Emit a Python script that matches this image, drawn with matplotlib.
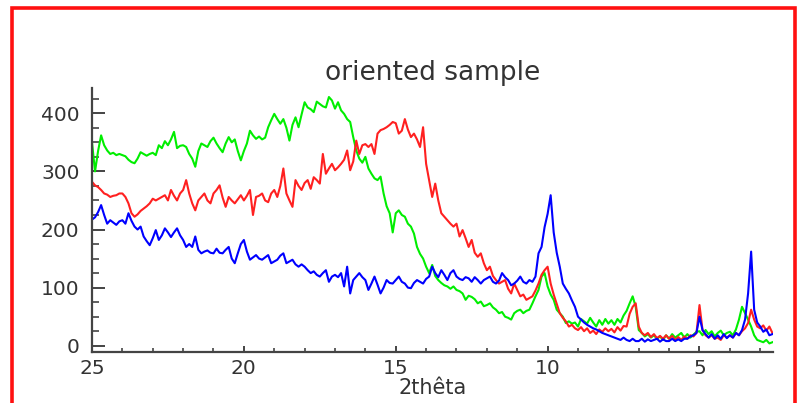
import numpy as np
import matplotlib
matplotlib.use("Agg")
import matplotlib.pyplot as plt
from matplotlib.patches import Rectangle

# 2theta sampling grid: 25.0 down to 2.6 in 0.1 steps (225 points)
two_theta = np.linspace(25.0, 2.6, 225)

green = [
    350, 300, 335, 362, 345, 336, 330, 332, 328, 330,   # 25.0-24.1
    328, 326, 320, 316, 314, 322, 333, 330, 327, 330,   # 24.0-23.1
    332, 328, 345, 340, 352, 345, 355, 368, 340, 344,   # 23.0-22.1
    345, 342, 330, 322, 308, 335, 348, 345, 342, 352,   # 22.0-21.1
    358, 348, 340, 333, 348, 359, 350, 355, 335, 319,   # 21.0-20.1
    335, 348, 370, 362, 356, 360, 355, 358, 376, 388,   # 20.0-19.1
    399, 390, 382, 390, 375, 353, 380, 393, 376, 398,   # 19.0-18.1
    419, 410, 407, 402, 420, 416, 412, 410, 428, 422,   # 18.0-17.1
    408, 419, 405, 399, 390, 385, 359, 336, 322, 315,   # 17.0-16.1
    325, 305, 296, 288, 285, 291, 262, 240, 228, 195,   # 16.0-15.1
    228, 233, 225, 222, 210, 205, 193, 170, 158, 150,   # 15.0-14.1
    136, 125, 139, 120, 113, 108, 104, 102, 98, 102,    # 14.0-13.1
    96, 94, 90, 79, 86, 84, 80, 73, 76, 68,             # 13.0-12.1
    70, 73, 66, 62, 56, 58, 50, 48, 45, 56,             # 12.0-11.1
    60, 62, 56, 60, 62, 73, 85, 96, 119, 125,           # 11.0-10.1
    102, 88, 79, 62, 56, 50, 39, 42, 38, 40,            # 10.0-9.1
    33, 46, 42, 38, 48, 40, 33, 44, 36, 46,             # 9.0-8.1
    38, 44, 36, 46, 40, 52, 60, 73, 85, 67,             # 8.0-7.1
    27, 22, 16, 20, 14, 18, 12, 16, 10, 18,             # 7.0-6.1
    12, 20, 14, 18, 22, 14, 20, 14, 19, 24,             # 6.0-5.1
    25, 18, 27, 20, 25, 16, 22, 26, 18, 22,             # 5.0-4.1
    24, 18, 28, 45, 67, 56, 45, 33, 18, 10,             # 4.0-3.1
    8, 6, 10, 4, 6,                                     # 3.0-2.6
]

red = [
    282, 276, 273, 268, 262, 260, 256, 258, 259, 262,   # 25.0-24.1
    262, 256, 245, 228, 222, 226, 232, 236, 240, 245,   # 24.0-23.1
    253, 250, 253, 256, 259, 250, 268, 258, 250, 262,   # 23.0-22.1
    268, 285, 262, 245, 233, 250, 256, 262, 250, 245,   # 22.0-21.1
    262, 268, 276, 255, 239, 256, 250, 245, 252, 259,   # 21.0-20.1
    250, 258, 268, 225, 256, 258, 262, 250, 247, 262,   # 20.0-19.1
    268, 256, 275, 305, 262, 250, 239, 285, 275, 268,   # 19.0-18.1
    280, 285, 270, 290, 285, 279, 330, 296, 305, 313,   # 18.0-17.1
    302, 307, 313, 320, 336, 302, 317, 353, 330, 345,   # 17.0-16.1
    347, 342, 347, 330, 365, 371, 373, 376, 380, 385,   # 16.0-15.1
    383, 365, 370, 390, 372, 359, 365, 355, 342, 376,   # 15.0-14.1
    313, 285, 256, 279, 250, 228, 222, 216, 210, 205,   # 14.0-13.1
    210, 188, 199, 185, 170, 182, 160, 153, 159, 142,   # 13.0-12.1
    130, 136, 120, 113, 107, 110, 113, 98, 90, 107,     # 12.0-11.1
    96, 85, 88, 79, 82, 85, 95, 107, 122, 130,          # 11.0-10.1
    136, 107, 88, 72, 56, 48, 42, 33, 36, 30,           # 10.0-9.1
    27, 32, 25, 30, 22, 26, 20, 28, 24, 30,             # 9.0-8.1
    25, 29, 23, 32, 26, 34, 33, 55, 67, 73,             # 8.0-7.1
    33, 22, 18, 22, 15, 20, 13, 17, 12, 18,             # 7.0-6.1
    12, 17, 10, 15, 10, 16, 12, 18, 16, 22,             # 6.0-5.1
    70, 27, 18, 14, 18, 12, 14, 10, 18, 14,             # 5.0-4.1
    18, 14, 22, 18, 25, 30, 39, 62, 45, 33,             # 4.0-3.1
    30, 35, 26, 33, 22,                                 # 3.0-2.6
]

blue = [
    217, 221, 230, 242, 225, 210, 216, 212, 208, 214,   # 25.0-24.1
    216, 210, 228, 215, 205, 200, 205, 188, 180, 173,   # 24.0-23.1
    185, 199, 182, 190, 202, 195, 187, 195, 202, 190,   # 23.0-22.1
    182, 170, 175, 170, 188, 165, 159, 162, 164, 160,   # 22.0-21.1
    159, 167, 160, 159, 165, 170, 150, 142, 159, 175,   # 21.0-20.1
    182, 162, 148, 152, 156, 150, 148, 152, 156, 142,   # 20.0-19.1
    145, 148, 155, 159, 142, 145, 148, 140, 136, 140,   # 19.0-18.1
    136, 130, 125, 128, 122, 119, 125, 130, 110, 119,   # 18.0-17.1
    122, 118, 125, 102, 136, 90, 113, 119, 125, 118,    # 17.0-16.1
    113, 96, 107, 119, 105, 90, 100, 113, 108, 107,     # 16.0-15.1
    113, 119, 110, 107, 100, 99, 108, 113, 110, 107,    # 15.0-14.1
    115, 119, 136, 125, 118, 130, 122, 113, 125, 130,   # 14.0-13.1
    119, 115, 113, 118, 116, 110, 118, 113, 107, 113,   # 13.0-12.1
    116, 119, 110, 107, 112, 125, 118, 113, 104, 107,   # 12.0-11.1
    112, 119, 110, 107, 113, 110, 119, 159, 170, 204,   # 11.0-10.1
    227, 259, 195, 160, 136, 107, 98, 90, 78, 67,       # 10.0-9.1
    50, 45, 40, 36, 33, 30, 28, 25, 22, 20,             # 9.0-8.1
    18, 16, 14, 12, 10, 14, 10, 8, 12, 8,               # 8.0-7.1
    8, 12, 7, 11, 8, 10, 12, 7, 11, 8,                  # 7.0-6.1
    8, 12, 8, 11, 8, 12, 12, 16, 18, 22,                # 6.0-5.1
    50, 27, 20, 14, 20, 12, 18, 12, 20, 13,             # 5.0-4.1
    18, 14, 22, 18, 27, 45, 90, 162, 62, 40,            # 4.0-3.1
    33, 24, 28, 18, 20,                                 # 3.0-2.6
]

x_ticks = [25, 20, 15, 10, 5]
y_ticks = [0, 100, 200, 300, 400]

W, H = 798, 403
fig = plt.figure(figsize=(W / 100, H / 100), dpi=100)
fig.patch.set_facecolor("white")

ax = fig.add_axes([92 / W, 1 - 352.3 / H, (773 - 92) / W, (352.3 - 88) / H])
ax.plot(two_theta, green, color="#00ee00", lw=1.5)
ax.plot(two_theta, red, color="#ff2020", lw=1.5)
ax.plot(two_theta, blue, color="#0000ff", lw=1.5)

ax.set_xlim(25, 2.58)
ax.set_ylim(-11.3, 443.5)
ax.set_xticks(x_ticks)
ax.set_xticks(np.arange(3, 26, 1), minor=True)
ax.set_yticks(y_ticks)
ax.set_yticks(np.arange(0, 426, 25), minor=True)

for s in ["top", "right"]:
    ax.spines[s].set_visible(False)
for s in ["left", "bottom"]:
    ax.spines[s].set_color("#444444")
    ax.spines[s].set_linewidth(1.6)

ax.tick_params(axis="y", which="major", direction="in", length=9, width=1.4,
               color="#444444", labelsize=14.5, labelcolor="#333333", pad=9)
ax.tick_params(axis="y", which="minor", direction="in", length=5, width=1.2,
               color="#444444")
ax.tick_params(axis="x", which="major", direction="in", length=4, width=1.4,
               color="#444444", labelsize=14.5, labelcolor="#333333", pad=5)
ax.tick_params(axis="x", which="minor", direction="in", length=3, width=1.2,
               color="#444444")

ax.set_title("oriented sample", fontsize=19, color="#333333", pad=6)
ax.set_xlabel("2thêta", fontsize=15, color="#333333", labelpad=0)

border = Rectangle((11.5 / W, -0.1), (795 - 11.5) / W, 1.1 - 8 / H,
                   transform=fig.transFigure, fill=False, edgecolor="#ff1010",
                   linewidth=2.6, clip_on=False)
fig.patches.append(border)

fig.savefig("out.png", dpi=100)
